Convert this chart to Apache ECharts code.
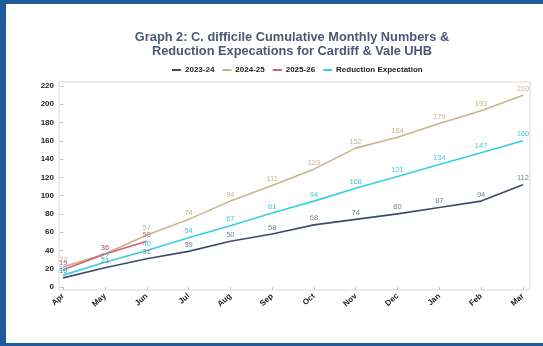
<!DOCTYPE html>
<html>
<head>
<meta charset="utf-8">
<script src="https://cdn.jsdelivr.net/npm/echarts@6/dist/echarts.min.js"></script>
<style>
  html, body { margin: 0; padding: 0; background: #1f5c99; }
  #frame { position: absolute; left: 6px; top: 4px; width: 537px; height: 339px; background: #fff; }
  #chart { position: absolute; left: -6px; top: -4px; width: 543px; height: 346px; }
</style>
</head>
<body>
<div id="frame"><div id="chart"></div></div>
<script>
// Months of the financial year (April to March)
const months = ['Apr', 'May', 'Jun', 'Jul', 'Aug', 'Sep', 'Oct', 'Nov', 'Dec', 'Jan', 'Feb', 'Mar'];

// Cumulative C. difficile cases
const fy2324 = [10, 21, 31, 39, 50, 58, 68, 74, 80, 87, 94, 112];
const fy2425 = [22, 36, 57, 74, 94, 111, 129, 152, 164, 179, 193, 210];
const fy2526 = [19, 36, 50];
const reduction = [13, 27, 40, 54, 67, 81, 94, 108, 121, 134, 147, 160];

// Y axis tick labels
const yTicks = [0, 20, 40, 60, 80, 100, 120, 140, 160, 180, 200, 220];

const chart = echarts.init(document.getElementById('chart'), null, { renderer: 'canvas' });

const toPairs = arr => arr.map((v, i) => [i, v]);
const mkSeries = (name, arr, color, labelColor) => ({
  name: name,
  type: 'line',
  data: toPairs(arr),
  symbol: 'circle',
  symbolSize: 1,
  showSymbol: true,
  lineStyle: { color: color, width: 1.6 },
  itemStyle: { color: color },
  label: { show: true, position: 'top', distance: 2, color: labelColor, fontSize: 7.5, fontFamily: 'Liberation Sans' },
  labelLayout: { hideOverlap: false },
  z: 3
});

chart.setOption({
  backgroundColor: 'transparent',
  animation: false,
  title: {
    text: 'Graph 2: C. difficile Cumulative Monthly Numbers &\nReduction Expecations for Cardiff & Vale UHB',
    left: 287,
    top: 25,
    textAlign: 'center',
    textStyle: { color: '#4a5775', fontSize: 12.8, fontWeight: 'bold', fontFamily: 'Liberation Sans', lineHeight: 14 }
  },
  legend: {
    top: 61,
    left: 167,
    itemWidth: 9,
    itemHeight: 2,
    itemGap: 8,
    icon: 'rect',
    textStyle: { color: '#222', fontSize: 8, fontWeight: 'bold', fontFamily: 'Liberation Sans', padding: [0, 0, 0, -1] },
    data: ['2023-24', '2024-25', '2025-26', 'Reduction Expectation']
  },
  grid: {
    left: 59, right: 13, top: 82, bottom: 56,
    show: true, borderColor: '#d9d9d9', borderWidth: 1
  },
  xAxis: {
    type: 'value',
    min: -0.1,
    max: 11.17,
    axisLine: { show: false },
    splitLine: { show: false },
    axisTick: { show: true, customValues: months.map((m, i) => i), length: 3, lineStyle: { color: '#bfbfbf' } },
    axisLabel: {
      customValues: months.map((m, i) => i),
      formatter: v => months[Math.round(v)],
      rotate: 42,
      fontSize: 8,
      fontWeight: 'bold',
      color: '#222',
      fontFamily: 'Liberation Sans',
      margin: 5
    }
  },
  yAxis: {
    type: 'value',
    min: -3.3,
    max: 224.4,
    axisLine: { show: false },
    splitLine: { show: false },
    axisTick: { show: true, customValues: yTicks, length: 3, lineStyle: { color: '#bfbfbf' } },
    axisLabel: {
      customValues: yTicks,
      fontSize: 8,
      fontWeight: 'bold',
      color: '#222',
      fontFamily: 'Liberation Sans',
      margin: 5
    }
  },
  series: [
    mkSeries('2023-24', fy2324, '#3f4b6e', '#7c8296'),
    mkSeries('2024-25', fy2425, '#cbb48a', '#c8b590'),
    mkSeries('2025-26', fy2526, '#cc5f7c', '#cc6a84'),
    mkSeries('Reduction Expectation', reduction, '#35d0e2', '#3ec8dc')
  ]
});
</script>
</body>
</html>
